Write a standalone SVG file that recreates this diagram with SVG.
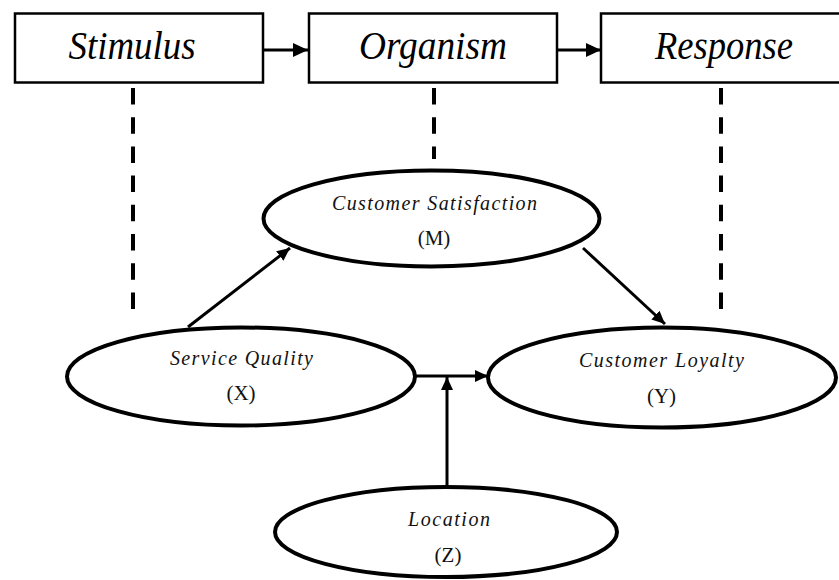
<svg xmlns="http://www.w3.org/2000/svg" width="839" height="580" viewBox="0 0 839 580">
<defs>
<style>
.box{fill:#fff;stroke:#000;stroke-width:2.5}
.ell{fill:#fff;stroke:#000;stroke-width:4}
.big{font-family:"Liberation Serif","Times New Roman","DejaVu Serif",serif;font-style:italic;font-size:40px;fill:#000;text-anchor:middle}
.lbl{font-family:"Liberation Serif","Times New Roman","DejaVu Serif",serif;font-style:italic;font-size:20px;fill:#111;text-anchor:middle}
.sym{font-family:"Liberation Serif","Times New Roman","DejaVu Serif",serif;font-size:21px;fill:#111;text-anchor:middle}
.con{stroke:#000;stroke-width:3;fill:none}
.dash{stroke:#000;stroke-width:4;stroke-dasharray:16.5 12.7;fill:none}
</style>
<marker id="ah" markerUnits="userSpaceOnUse" markerWidth="16" markerHeight="14" refX="15" refY="7" orient="auto"><path d="M0,0 L15,7 L0,14 z" fill="#000"/></marker>
<marker id="ah2" markerUnits="userSpaceOnUse" markerWidth="14" markerHeight="12" refX="13" refY="6" orient="auto"><path d="M0,0 L13,6 L0,12 z" fill="#000"/></marker>
</defs>
<rect width="839" height="580" fill="#fff"/>
<g id="connectors">
<line class="con" x1="264" y1="50" x2="308" y2="50" marker-end="url(#ah)"/>
<line class="con" x1="558" y1="50" x2="601" y2="50" marker-end="url(#ah)"/>
<line class="dash" x1="133" y1="88" x2="133" y2="309"/>
<line class="dash" x1="434" y1="88" x2="434" y2="159"/>
<line class="dash" x1="721" y1="88" x2="721" y2="309"/>
<line class="con" x1="188" y1="327" x2="290" y2="248" marker-end="url(#ah2)"/>
<line class="con" x1="583" y1="248" x2="665" y2="324" marker-end="url(#ah2)"/>
<line class="con" x1="414" y1="376" x2="488" y2="376" marker-end="url(#ah2)"/>
<line class="con" x1="447" y1="488" x2="447" y2="377" marker-end="url(#ah2)"/>
</g>
<g id="stimulus">
<rect class="box" x="15" y="13.5" width="248" height="69"/>
<text class="big" x="132" y="59" textLength="127" lengthAdjust="spacingAndGlyphs">Stimulus</text>
</g>
<g id="organism">
<rect class="box" x="309" y="13.5" width="248" height="69"/>
<text class="big" x="433" y="59" textLength="148" lengthAdjust="spacingAndGlyphs">Organism</text>
</g>
<g id="response">
<rect class="box" x="601" y="13.5" width="250" height="69"/>
<text class="big" x="724" y="59" textLength="138" lengthAdjust="spacingAndGlyphs">Response</text>
</g>
<g id="satisfaction">
<ellipse class="ell" cx="431.5" cy="218.5" rx="168" ry="48"/>
<text class="lbl" x="434.5" y="210" textLength="205">Customer Satisfaction</text>
<text class="sym" x="434" y="245">(M)</text>
</g>
<g id="service">
<ellipse class="ell" cx="241" cy="376.5" rx="174" ry="49"/>
<text class="lbl" x="241.5" y="365" textLength="143">Service Quality</text>
<text class="sym" x="241" y="400">(X)</text>
</g>
<g id="loyalty">
<ellipse class="ell" cx="662" cy="377.5" rx="174" ry="50"/>
<text class="lbl" x="661.5" y="367" textLength="165">Customer Loyalty</text>
<text class="sym" x="661.5" y="403">(Y)</text>
</g>
<g id="location">
<ellipse class="ell" cx="446" cy="532" rx="171" ry="45"/>
<text class="lbl" x="449" y="526" textLength="82">Location</text>
<text class="sym" x="448" y="562">(Z)</text>
</g>
</svg>
